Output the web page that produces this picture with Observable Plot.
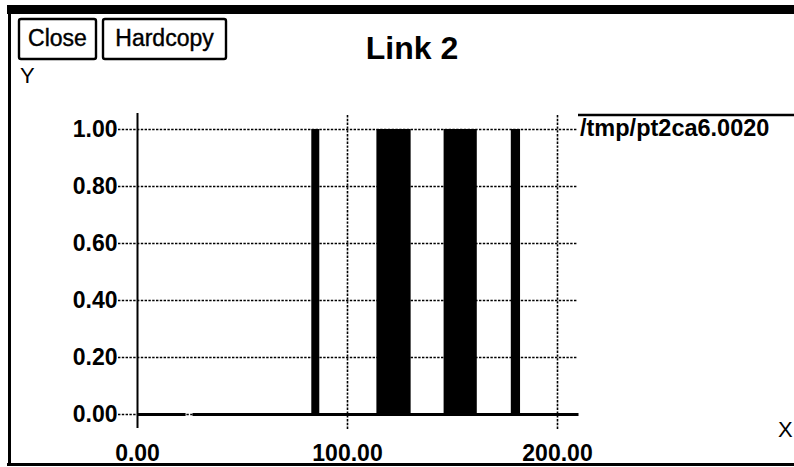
<!DOCTYPE html>
<html>
<head>
<meta charset="utf-8">
<script src="https://cdn.jsdelivr.net/npm/d3@7"></script>
<script src="https://cdn.jsdelivr.net/npm/@observablehq/plot@0.6"></script>
<style>
  html, body { margin: 0; padding: 0; background: #fff; }
  #wrap { position: relative; width: 794px; height: 467px; overflow: hidden; font-family: "Liberation Sans", Arial, sans-serif; color: #000; }
  #wrap svg.plot { position: absolute; left: 0; top: 0; }
</style>
</head>
<body>
<div id="wrap"></div>
<script>
// ---- data ----
const chartTitle = "Link 2";
const seriesName = "/tmp/pt2ca6.0020";
const xTicks = [0, 100, 200];
const yTicks = [0, 0.2, 0.4, 0.6, 0.8, 1.0];
const xGrid = [100, 200];
const yGrid = [0.2, 0.4, 0.6, 0.8, 1.0];
// pulses where the signal is at 1.0
const pulseStart = [83.0, 114.0, 146.0, 178.0];
const pulseEnd   = [86.8, 130.3, 161.8, 182.4];
const pulseLevel = [1, 1, 1, 1];
// visible runs of the signal at 0.0
const lowStart = [0, 26.2];
const lowEnd   = [22.9, 210];

const pulses = pulseStart.map((s, i) => ({x1: s, x2: pulseEnd[i], y: pulseLevel[i]}));
const lows = lowStart.map((s, i) => ({x1: s, x2: lowEnd[i], y: 0}));

const dotted = {stroke: "#000", strokeWidth: 1.6, strokeDasharray: "2.4,1.4"};

const plot = Plot.plot({
  width: 794,
  height: 467,
  marginLeft: 137,
  marginRight: 237,
  marginTop: 129,
  marginBottom: 53,
  x: {domain: [0, 200]},
  y: {domain: [0, 1]},
  style: {fontFamily: "'Liberation Sans', Arial, sans-serif", fontSize: "23px", fontWeight: "bold", color: "#000", background: "transparent"},
  marks: [
    Plot.ruleY(yGrid, {...dotted, insetLeft: -19, insetRight: -20}),
    Plot.ruleY([0], {...dotted, insetLeft: -19, insetRight: 0}),
    Plot.ruleX(xGrid, {...dotted, insetTop: -14, insetBottom: -16}),
    Plot.rectY(pulses, {x1: "x1", x2: "x2", y1: 0, y2: "y", fill: "#000"}),
    Plot.link(lows, {x1: "x1", x2: "x2", y1: "y", y2: "y", stroke: "#000", strokeWidth: 3}),
    Plot.ruleX([0], {stroke: "#000", strokeWidth: 2, insetTop: -16, insetBottom: -14}),
    Plot.axisY({ticks: yTicks, tickFormat: d3.format(".2f"), tickSize: 0, tickPadding: 20, label: null, fontSize: 23, fontWeight: "bold"}),
    Plot.axisX({ticks: xTicks, tickFormat: d3.format(".2f"), tickSize: 0, tickPadding: 30, label: null, fontSize: 23, fontWeight: "bold"})
  ]
});
plot.classList.add("plot");
const wrap = document.getElementById("wrap");
wrap.appendChild(plot);

// window decorations and labels
const deco = d3.select(wrap).append("svg")
  .attr("width", 794).attr("height", 467)
  .style("position", "absolute").style("left", 0).style("top", 0)
  .style("font-family", "'Liberation Sans', Arial, sans-serif");
deco.append("rect").attr("x", 7).attr("y", 5).attr("width", 787).attr("height", 9).attr("fill", "#000");
deco.append("line").attr("x1", 9.5).attr("x2", 9.5).attr("y1", 5).attr("y2", 466).attr("stroke", "#000").attr("stroke-width", 3);
deco.append("line").attr("x1", 7).attr("x2", 794).attr("y1", 464.5).attr("y2", 464.5).attr("stroke", "#000").attr("stroke-width", 3);
// buttons
[["Close", 18, 79], ["Hardcopy", 102, 125]].forEach(([t, x, w]) => {
  deco.append("rect").attr("x", x + 1).attr("y", 19).attr("width", w - 2).attr("height", 40)
    .attr("fill", "none").attr("stroke", "#000").attr("stroke-width", 2.4).attr("rx", 2);
  deco.append("text").attr("x", x + w / 2).attr("y", 46).attr("text-anchor", "middle")
    .attr("font-size", 23).attr("stroke", "#000").attr("stroke-width", 0.4).text(t);
});
// title
deco.append("text").attr("x", 412).attr("y", 59).attr("text-anchor", "middle")
  .attr("font-size", 32).attr("font-weight", "bold").text(chartTitle);
// axis names
deco.append("text").attr("x", 20).attr("y", 83).attr("font-size", 22).text("Y");
deco.append("text").attr("x", 778).attr("y", 437).attr("font-size", 22).text("X");
// legend
deco.append("line").attr("x1", 578).attr("x2", 794).attr("y1", 115).attr("y2", 115).attr("stroke", "#000").attr("stroke-width", 2.5);
deco.append("text").attr("x", 580).attr("y", 136).attr("font-size", 23.5).attr("font-weight", "bold")
  .text(seriesName);
</script>
</body>
</html>
